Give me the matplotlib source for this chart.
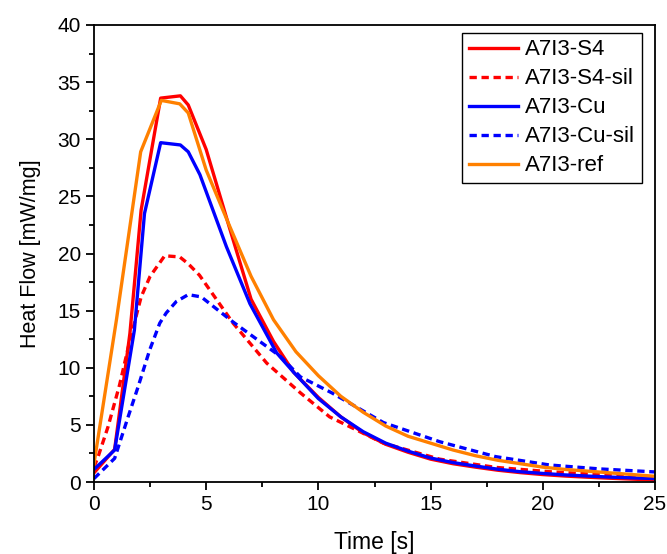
import matplotlib.pyplot as plt
from matplotlib.ticker import MultipleLocator

plt.rcParams['font.family'] = ['Liberation Sans', 'DejaVu Sans']

# A7I3-S4
t_s4 = [0, 0.92, 1.6, 2.1, 2.97, 3.85, 4.2, 5, 6, 7, 8, 8.9, 10, 11, 12, 13, 14, 15,
        16, 17, 18, 19, 20, 21, 22, 23, 24, 25]
hf_s4 = [0.8, 2.86, 13.0, 23.8, 33.6, 33.8, 33.0, 29.1, 22.5, 16.0, 12.3, 9.6, 7.4, 5.7,
         4.3, 3.3, 2.6, 2.0, 1.6, 1.3, 1.03, 0.82, 0.65, 0.52, 0.42, 0.33, 0.25, 0.18]

# A7I3-S4-sil
t_s4sil = [0, 0.18, 0.62, 1.14, 1.6, 2.1, 2.5, 3.15, 3.82, 4.2, 4.7, 6.2, 7.7, 9.2, 10.5,
           12.9, 15.4, 17.9, 20.3, 22.5, 25]
hf_s4sil = [1.3, 2.2, 4.8, 8.5, 12.4, 16.2, 18.0, 19.8, 19.7, 19.1, 18.1, 13.9, 10.4, 7.8,
            5.7, 3.4, 2.0, 1.28, 0.9, 0.65, 0.4]

# A7I3-Cu
t_cu = [0, 0.92, 1.8, 2.25, 2.97, 3.85, 4.2, 4.72, 5.9, 6.95, 8.14, 8.9, 10, 11, 12, 13,
        14, 15, 16, 17, 18, 19, 20, 21, 22, 23, 24, 25]
hf_cu = [1.1, 2.8, 13.3, 23.5, 29.7, 29.5, 28.9, 26.9, 20.6, 15.6, 11.3, 9.6, 7.3, 5.7,
         4.4, 3.4, 2.7, 2.1, 1.7, 1.4, 1.12, 0.9, 0.75, 0.62, 0.52, 0.43, 0.36, 0.3]

# A7I3-Cu-sil
t_cusil = [0, 0.92, 1.52, 1.96, 2.48, 2.93, 3.22, 3.67, 4.2, 4.78, 6.2, 8.3, 9.2, 10.6,
           12.9, 15.4, 17.9, 20.3, 22.5, 25]
hf_cusil = [0.3, 2.07, 5.7, 8.3, 11.55, 13.9, 14.8, 15.8, 16.4, 16.2, 14.0, 11.0, 9.2, 7.8,
            5.2, 3.53, 2.22, 1.49, 1.15, 0.88]

# A7I3-ref
t_ref = [0, 1.0, 2.08, 3.0, 3.82, 4.2, 5, 6, 7, 8, 9, 10, 11, 12, 13, 14, 15, 16, 17, 18,
         19, 20, 21, 22, 23, 24, 25]
hf_ref = [1.6, 14.2, 28.9, 33.4, 33.1, 32.3, 27.3, 22.6, 18.0, 14.2, 11.4, 9.3, 7.5, 6.1,
          4.9, 4.0, 3.4, 2.8, 2.3, 1.9, 1.6, 1.3, 1.1, 0.95, 0.8, 0.65, 0.5]

fig = plt.figure(figsize=(6.67, 5.54), dpi=100)
ax = fig.add_axes([94 / 667, 1 - 482 / 554, 561 / 667, 457 / 554])

lw = 2.4
dash = (0, (2.2, 1.4))
ax.plot(t_s4, hf_s4, color='#ff0000', lw=lw, label='A7I3-S4')
ax.plot(t_s4sil, hf_s4sil, color='#ff0000', lw=lw, linestyle=dash, label='A7I3-S4-sil')
ax.plot(t_cu, hf_cu, color='#0000ff', lw=lw, label='A7I3-Cu')
ax.plot(t_cusil, hf_cusil, color='#0000ff', lw=lw, linestyle=dash, label='A7I3-Cu-sil')
ax.plot(t_ref, hf_ref, color='#ff8000', lw=lw, label='A7I3-ref')

ax.set_xlim(0, 25)
ax.set_ylim(0, 40)
ax.xaxis.set_major_locator(MultipleLocator(5))
ax.xaxis.set_minor_locator(MultipleLocator(2.5))
ax.yaxis.set_major_locator(MultipleLocator(5))
ax.yaxis.set_minor_locator(MultipleLocator(2.5))
ax.tick_params(which='major', direction='out', length=6, width=1.3, labelsize=15)
ax.tick_params(which='minor', direction='out', length=3.5, width=1.3)
for s in ax.spines.values():
    s.set_linewidth(1.3)

ax.set_xlabel('Time [s]', fontsize=16.5, labelpad=12)
ax.set_ylabel('Heat Flow [mW/mg]', fontsize=15.5, labelpad=12)

leg = ax.legend(loc='upper right', bbox_to_anchor=(0.977, 0.983), fontsize=16,
                fancybox=False, framealpha=1, edgecolor='black', handlelength=2.2,
                borderpad=0.3, labelspacing=0.36, handletextpad=0.35,
                borderaxespad=0)
leg.get_frame().set_linewidth(1.0)

fig.savefig('out.png', dpi=100)
